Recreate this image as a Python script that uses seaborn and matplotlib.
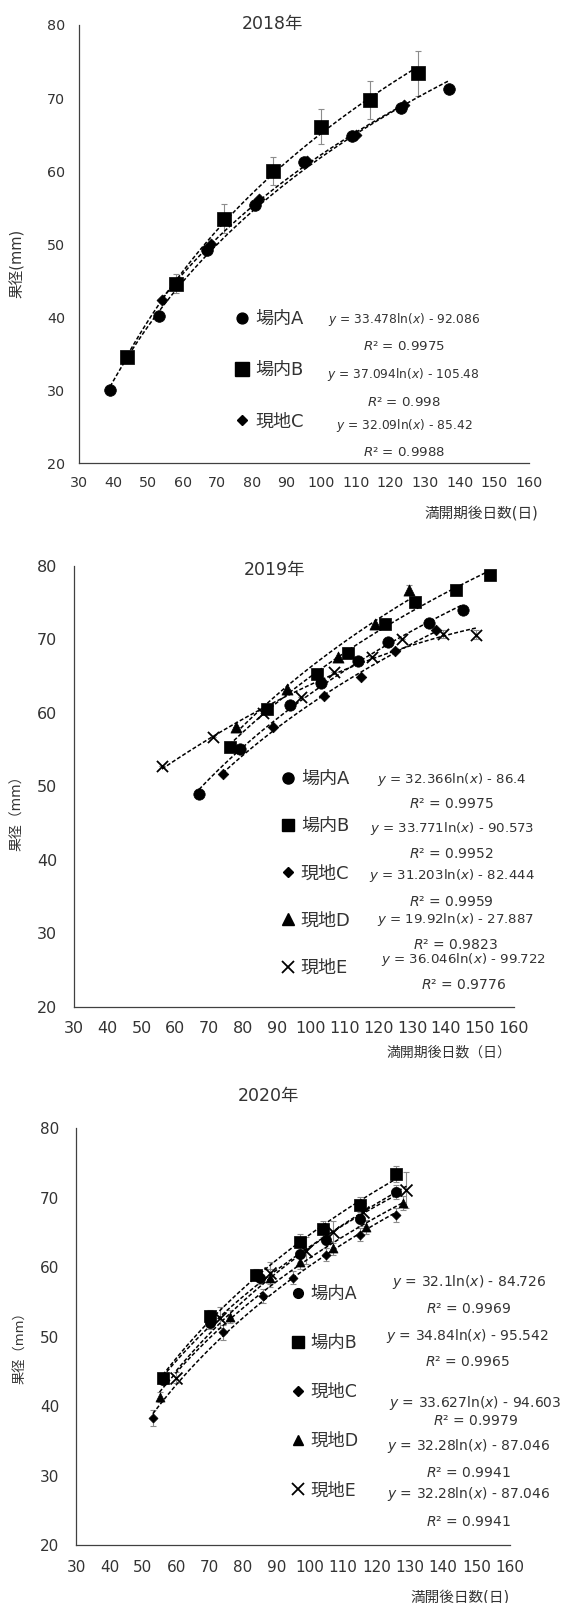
import numpy as np
import pandas as pd
import matplotlib
matplotlib.use("Agg")
import matplotlib.pyplot as plt
from matplotlib.lines import Line2D
import seaborn as sns

# ------------------------------------------------------------------ data
# 2018
x18_A = [39, 53, 67, 81, 95, 109, 123, 137]
y18_A = [30.1, 40.1, 49.2, 55.3, 61.3, 64.8, 68.7, 71.3]
x18_B = [44, 58, 72, 86, 100, 114, 128]
y18_B = [34.5, 44.6, 53.5, 60.0, 66.1, 69.8, 73.4]
e18_B = [0.8, 1.3, 2.0, 1.9, 2.4, 2.6, 3.1]
x18_C = [54, 68, 82, 96, 110, 124]
y18_C = [42.3, 50.0, 56.2, 61.4, 64.9, 69.0]

# 2019
x19_A = [67, 79, 94, 103, 114, 123, 135, 145]
y19_A = [48.9, 55.0, 61.1, 64.0, 67.1, 69.6, 72.2, 74.0]
x19_B = [76, 87, 102, 111, 122, 131, 143, 153]
y19_B = [55.4, 60.5, 65.3, 68.1, 72.1, 75.1, 76.7, 78.8]
x19_C = [74, 89, 104, 115, 125, 137]
y19_C = [51.7, 58.0, 62.3, 64.8, 68.4, 71.3]
x19_D = [78, 93, 108, 119, 129]
y19_D = [58.1, 63.2, 67.6, 72.1, 76.7]
e19_D = [0.0, 0.0, 0.0, 0.0, 0.7]
x19_E = [56, 71, 86, 97, 107, 118, 127, 139, 149]
y19_E = [52.8, 56.7, 60.0, 62.2, 65.5, 67.6, 70.0, 70.7, 70.6]
e19_E = [0.0, 0.0, 0.0, 0.0, 0.0, 0.0, 0.0, 0.5, 0.6]

# 2020
x20_A = [56, 70, 85, 97, 105, 115, 126]
y20_A = [43.8, 51.9, 58.5, 61.9, 63.9, 67.0, 70.8]
e20_A = [0.6, 0.8, 0.9, 1.2, 1.1, 1.0, 1.0]
x20_B = [56, 70, 84, 97, 104, 115, 126]
y20_B = [44.0, 53.0, 58.9, 63.6, 65.5, 68.9, 73.4]
e20_B = [0.6, 0.8, 0.8, 1.2, 1.1, 1.2, 1.1]
x20_C = [53, 74, 86, 95, 105, 115, 126]
y20_C = [38.3, 50.6, 55.8, 58.5, 61.8, 64.7, 67.5]
e20_C = [1.1, 1.1, 1.0, 0.9, 0.9, 0.9, 1.0]
x20_D = [55, 76, 88, 97, 107, 117, 128]
y20_D = [41.3, 52.9, 58.4, 60.7, 62.8, 65.8, 69.3]
e20_D = [0.7, 0.9, 1.3, 1.0, 1.0, 1.0, 1.0]
x20_E = [60, 73, 88, 99, 107, 116, 129]
y20_E = [44.1, 52.7, 59.2, 62.4, 65.1, 68.0, 71.1]
e20_E = [0.8, 1.5, 1.6, 2.0, 1.6, 1.3, 2.6]

# labels / texts
titles = ["2018年", "2019年", "2020年"]
names18 = ["場内A", "場内B", "現地C"]
names19 = ["場内A", "場内B", "現地C", "現地D", "現地E"]
names20 = ["場内A", "場内B", "現地C", "現地D", "現地E"]
coef18 = [("33.478", "92.086"), ("37.094", "105.48"), ("32.09", "85.42")]
r2_18 = ["0.9975", "0.998", "0.9988"]
coef19 = [("32.366", "86.4"), ("33.771", "90.573"), ("31.203", "82.444"),
          ("19.92", "27.887"), ("36.046", "99.722")]
r2_19 = ["0.9975", "0.9952", "0.9959", "0.9823", "0.9776"]
coef20 = [("32.1", "84.726"), ("34.84", "95.542"), ("33.627", "94.603"),
          ("32.28", "87.046"), ("32.28", "87.046")]
r2_20 = ["0.9969", "0.9965", "0.9979", "0.9941", "0.9941"]
xlabels = ["満開期後日数(日)", "満開期後日数（日）", "満開後日数(日)"]
ylabels = ["果径(mm)", "果径（mm）", "果径（mm）"]
xticks = [30, 40, 50, 60, 70, 80, 90, 100, 110, 120, 130, 140, 150, 160]
yticks = [20, 30, 40, 50, 60, 70, 80]

# ------------------------------------------------------------------ style
sns.set_style("white")
plt.rcParams["font.family"] = ["DejaVu Sans", "Noto Sans CJK JP"]
plt.rcParams["mathtext.fontset"] = "dejavusans"
TXT = "#333333"
SPINE = "#404040"

markers = ["o", "s", "D", "^", "x"]

panels = [
    dict(rect=[79 / 563, 1 - 463.3 / 1603, 449.9 / 563, 438.3 / 1603],
         series=[(x18_A, y18_A, None), (x18_B, y18_B, e18_B), (x18_C, y18_C, None)],
         names=names18, coefs=coef18, r2=r2_18, fit=["log", "log", "log"],
         msize=[8.4, 10.0, 5.6], tick_fs=10.3, ypad=10, xpad=9.5,
         title_xy=(0.43, 1.002), title_fs=12.5,
         xlab_xy=(1.0215, -0.1127), xlab_fs=10.5,
         ylab_xy=(-0.138, 0.455), ylab_fs=10.5,
         leg_xy=(0.343, 0.3495), leg_fs=13, leg_sp=1.84, leg_ms=[7.8, 9.4, 5.4],
         eq_x=[0.722, 0.722, 0.722],
         eq_y=[(0.3288, 0.2656), (0.2017, 0.1387), (0.0853, 0.0246)],
         eq_fs=8.8, r2_fs=9.6),
    dict(rect=[74 / 563, 1 - 1006.7 / 1603, 439.5 / 563, 441 / 1603],
         series=[(x19_A, y19_A, None), (x19_B, y19_B, None), (x19_C, y19_C, None),
                 (x19_D, y19_D, e19_D), (x19_E, y19_E, e19_E)],
         names=names19, coefs=coef19, r2=r2_19, fit=["log", "log", "log", "log", "quad"],
         msize=[8.2, 8.6, 5.4, 8.0, 8.0], tick_fs=11.5, ypad=12, xpad=10,
         title_xy=(0.457, 0.99), title_fs=12.5,
         xlab_xy=(0.995, -0.1034), xlab_fs=10,
         ylab_xy=(-0.1297, 0.447), ylab_fs=10,
         leg_xy=(0.467, 0.537), leg_fs=13, leg_sp=1.62, leg_ms=[8.0, 8.6, 5.4, 8.4, 8.4],
         eq_x=[0.859, 0.859, 0.859, 0.8685, 0.8871],
         eq_y=[(0.5163, 0.459), (0.4045, 0.3463), (0.2964, 0.2381),
               (0.1982, 0.1399), (0.1059, 0.0492)],
         eq_fs=9.6, r2_fs=10.0),
    dict(rect=[76.1 / 563, 1 - 1545 / 1603, 433.8 / 563, 416.7 / 1603],
         series=[(x20_A, y20_A, e20_A), (x20_B, y20_B, e20_B), (x20_C, y20_C, e20_C),
                 (x20_D, y20_D, e20_D), (x20_E, y20_E, e20_E)],
         names=names20, coefs=coef20, r2=r2_20, fit=["log"] * 5,
         msize=[7.4, 8.6, 4.6, 6.5, 8.6], tick_fs=11, ypad=12, xpad=11,
         title_xy=(0.444, 1.077), title_fs=12.5,
         xlab_xy=(1.0, -0.124), xlab_fs=10.5,
         ylab_xy=(-0.130, 0.48), ylab_fs=9.5,
         leg_xy=(0.4926, 0.624), leg_fs=12.5, leg_sp=1.79, leg_ms=[7.0, 8.0, 4.8, 7.0, 8.0],
         eq_x=[0.905, 0.902, 0.92, 0.905, 0.905],
         eq_y=[(0.6319, 0.5664), (0.5016, 0.4384), (0.3415, 0.2976),
               (0.2376, 0.1735), (0.1224, 0.0559)],
         eq_fs=10.0, r2_fs=10.0),
]

fig = plt.figure(figsize=(5.63, 16.03), dpi=100)

for k, (title, p) in enumerate(zip(titles, panels)):
    ax = fig.add_axes(p["rect"])
    for i, (xs, ys, es) in enumerate(p["series"]):
        m = markers[i]
        if es is not None:
            ax.errorbar(xs, ys, yerr=es, fmt="none", ecolor="#8c8c8c",
                        elinewidth=0.8, capsize=2.4, capthick=0.8, zorder=1)
        line_kws = dict(lw=1.1, ls=(0, (2.6, 1.4)), zorder=2)
        if p["fit"][i] == "log":
            sns.regplot(x=np.array(xs, float), y=np.array(ys, float), logx=True,
                        ci=None, scatter=False, truncate=True, color="black", ax=ax,
                        line_kws=line_kws)
        else:
            sns.regplot(x=np.array(xs, float), y=np.array(ys, float), order=2,
                        ci=None, scatter=False, truncate=True, color="black", ax=ax,
                        line_kws=line_kws)
        ms = p["msize"][i]
        if m == "x":
            sns.scatterplot(x=xs, y=ys, marker=m, s=ms ** 2, color="black",
                            linewidth=1.3, ax=ax, zorder=3, legend=False)
        else:
            sns.scatterplot(x=xs, y=ys, marker=m, s=ms ** 2, color="black",
                            edgecolor="black", linewidth=0.5, ax=ax, zorder=3,
                            legend=False)

    ax.set_xlim(30, 160)
    ax.set_ylim(20, 80)
    ax.set_xticks(xticks)
    ax.set_yticks(yticks)
    ax.set_xlabel("")
    ax.set_ylabel("")
    for s in ["top", "right"]:
        ax.spines[s].set_visible(False)
    for s in ["left", "bottom"]:
        ax.spines[s].set_color(SPINE)
        ax.spines[s].set_linewidth(0.9)
    ax.tick_params(axis="both", direction="in", length=3.6, width=0.9, color=SPINE,
                   labelcolor=TXT, labelsize=p["tick_fs"])
    ax.tick_params(axis="y", pad=p["ypad"])
    ax.tick_params(axis="x", pad=p["xpad"])
    ax.patch.set_alpha(0)

    ax.text(*p["title_xy"], title, transform=ax.transAxes, ha="center", va="center",
            fontsize=p["title_fs"], color=TXT)
    ax.text(*p["xlab_xy"], xlabels[k], transform=ax.transAxes,
            ha="right", va="center", fontsize=p["xlab_fs"], color=TXT)
    ax.text(*p["ylab_xy"], ylabels[k], transform=ax.transAxes,
            ha="center", va="center", rotation=90, fontsize=p["ylab_fs"], color=TXT)

    handles = []
    for i, name in enumerate(p["names"]):
        m = markers[i]
        if m == "x":
            h = Line2D([], [], ls="none", marker=m, color="black",
                       markersize=p["leg_ms"][i], markeredgewidth=1.3)
        else:
            h = Line2D([], [], ls="none", marker=m, color="black",
                       markersize=p["leg_ms"][i])
        handles.append(h)
    leg = ax.legend(handles, p["names"], loc="upper left", bbox_to_anchor=p["leg_xy"],
                    frameon=False, borderpad=0, borderaxespad=0, handlelength=1.0,
                    handletextpad=0.2, labelspacing=p["leg_sp"], fontsize=p["leg_fs"])
    for t in leg.get_texts():
        t.set_color(TXT)

    for i, (a, b) in enumerate(p["coefs"]):
        ey, ry = p["eq_y"][i]
        ax.text(p["eq_x"][i], ey, f"$y$ = {a}ln($x$) - {b}", transform=ax.transAxes,
                ha="center", va="center", fontsize=p["eq_fs"], color=TXT)
        ax.text(p["eq_x"][i], ry, f"$R$² = {p['r2'][i]}", transform=ax.transAxes,
                ha="center", va="center", fontsize=p["r2_fs"], color=TXT)

fig.savefig("out.png", dpi=100)
